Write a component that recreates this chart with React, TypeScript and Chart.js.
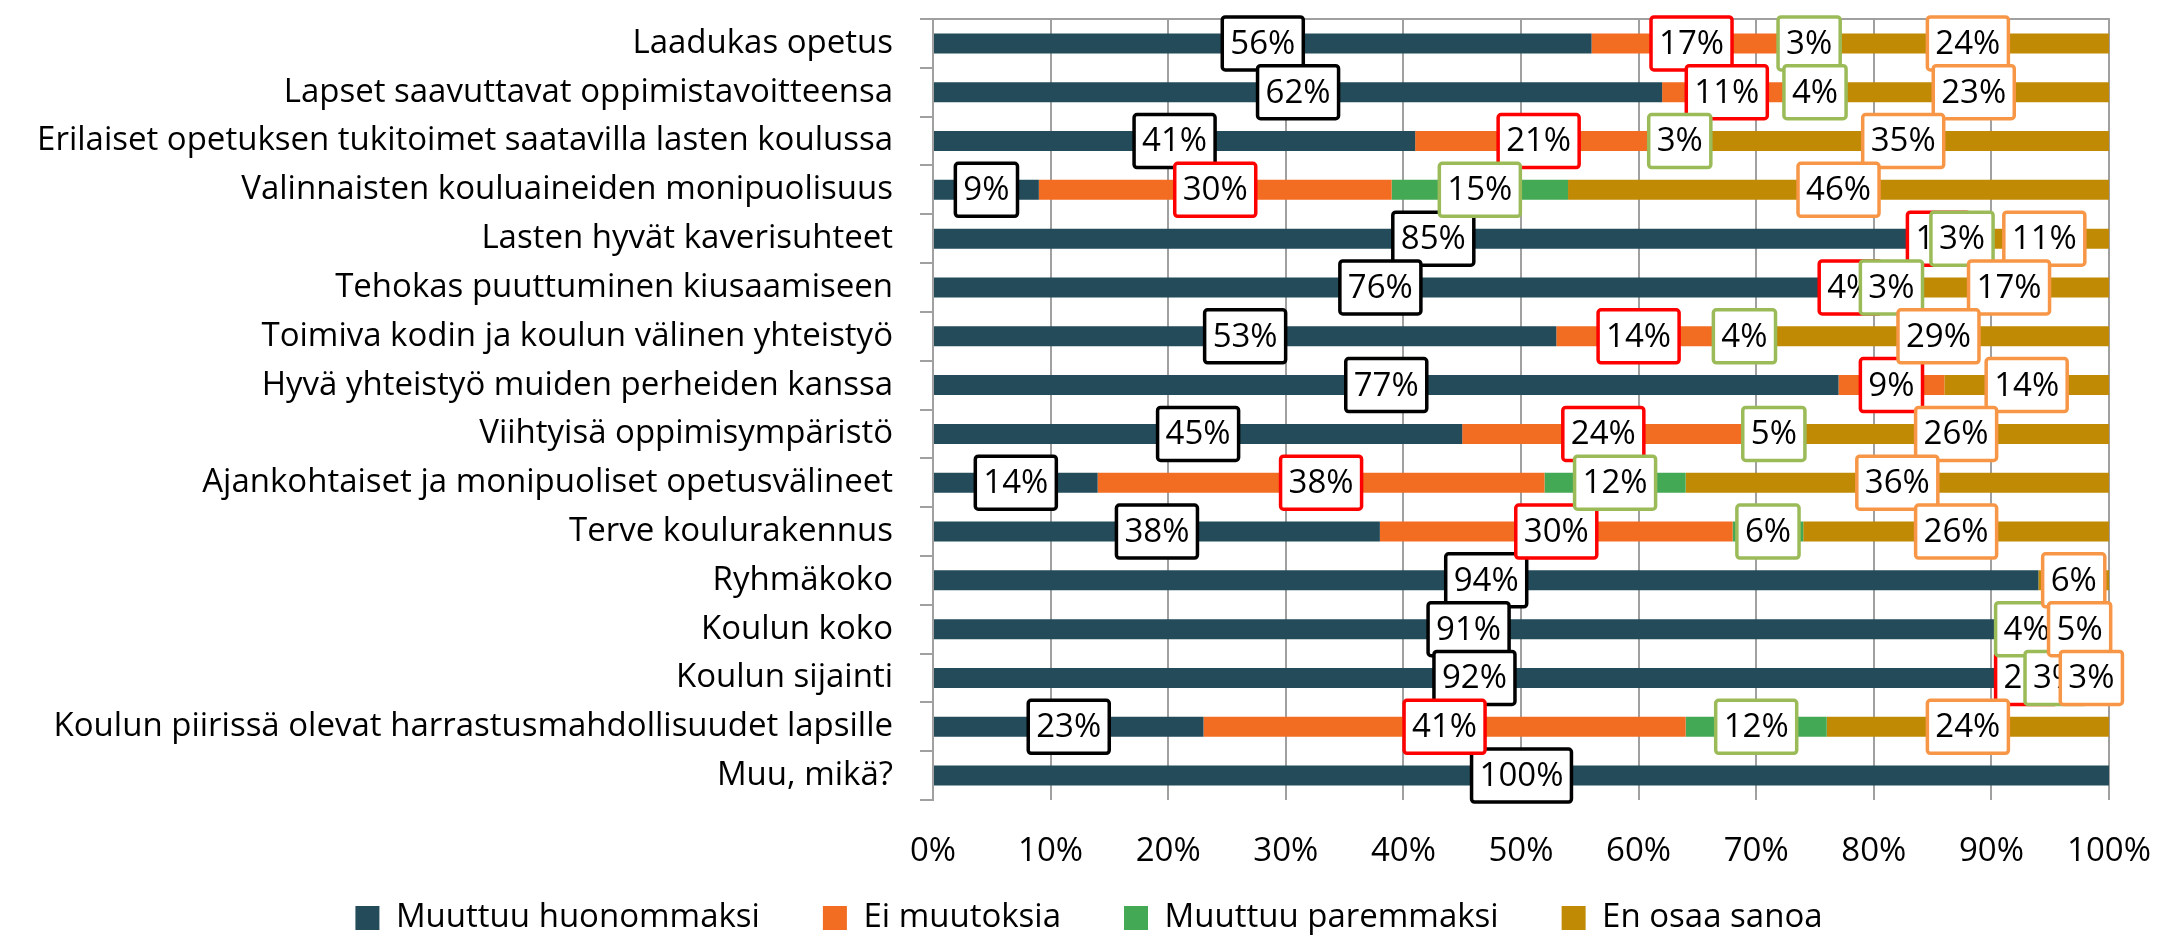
import React, { useEffect, useRef } from 'react';
import { Chart, registerables } from 'chart.js';

Chart.register(...registerables);

const categories = [
  'Laadukas opetus',
  'Lapset saavuttavat oppimistavoitteensa',
  'Erilaiset opetuksen tukitoimet saatavilla lasten koulussa',
  'Valinnaisten kouluaineiden monipuolisuus',
  'Lasten hyvät kaverisuhteet',
  'Tehokas puuttuminen kiusaamiseen',
  'Toimiva kodin ja koulun välinen yhteistyö',
  'Hyvä yhteistyö muiden perheiden kanssa',
  'Viihtyisä oppimisympäristö',
  'Ajankohtaiset ja monipuoliset opetusvälineet',
  'Terve koulurakennus',
  'Ryhmäkoko',
  'Koulun koko',
  'Koulun sijainti',
  'Koulun piirissä olevat harrastusmahdollisuudet lapsille',
  'Muu, mikä?',
];

const seriesNames = ['Muuttuu huonommaksi', 'Ei muutoksia', 'Muuttuu paremmaksi', 'En osaa sanoa'];

const worse = [56, 62, 41, 9, 85, 76, 53, 77, 45, 14, 38, 94, 91, 92, 23, 100];
const noChange = [17, 11, 21, 30, 1, 4, 14, 9, 24, 38, 30, 0, 0, 2, 41, 0];
const better = [3, 4, 3, 15, 3, 3, 4, 0, 5, 12, 6, 0, 4, 3, 12, 0];
const dontKnow = [24, 23, 35, 46, 11, 17, 29, 14, 26, 36, 26, 6, 5, 3, 24, 0];

const barColors = ['#234B5A', '#F26C22', '#44A955', '#C08A05'];
const labelBorderColors = ['#000000', '#FF0000', '#9BBB59', '#F79646'];

const FONT = '"Open Sans", "Liberation Sans", sans-serif';
const FONT_SIZE = 33;
const GRID = '#A0A0A0';

const boxLabelPlugin = {
  id: 'boxLabels',
  afterDatasetsDraw(chart: any) {
    const ctx = chart.ctx;
    ctx.save();
    ctx.font = `${FONT_SIZE}px ${FONT}`;
    ctx.textAlign = 'center';
    ctx.textBaseline = 'middle';
    chart.data.datasets.forEach((ds: any, i: number) => {
      const meta = chart.getDatasetMeta(i);
      meta.data.forEach((el: any, j: number) => {
        const v = ds.data[j];
        if (!v) return;
        const { x, base, y } = el.getProps(['x', 'base', 'y'], true);
        const cx = (x + base) / 2;
        const text = v + '%';
        const w = ctx.measureText(text).width + 16;
        const h = 53;
        ctx.beginPath();
        if (ctx.roundRect) ctx.roundRect(cx - w / 2, y - h / 2, w, h, 3);
        else ctx.rect(cx - w / 2, y - h / 2, w, h);
        ctx.fillStyle = '#ffffff';
        ctx.fill();
        ctx.lineWidth = 3.5;
        ctx.strokeStyle = labelBorderColors[i];
        ctx.stroke();
        ctx.fillStyle = '#000000';
        ctx.fillText(text, cx, y + 1);
      });
    });
    ctx.restore();
  },
};

// moves the legend row up so that it sits just below the axis labels
const legendPlacePlugin = {
  id: 'legendPlace',
  afterLayout(chart: any) {
    const l = chart.legend;
    if (l) {
      l.top = 838.5;
      l.height = l.bottom - l.top;
    }
  },
};

const noPadding = (s: any) => {
  s.paddingTop = 0;
  s.paddingBottom = 0;
  s.paddingLeft = 0;
  s.paddingRight = 0;
};

export default function App() {
  const ref = useRef<HTMLCanvasElement | null>(null);

  useEffect(() => {
    document.body.style.margin = '0';
    document.body.style.background = '#ffffff';
    const canvas = ref.current;
    if (!canvas) return;
    const seriesData = [worse, noChange, better, dontKnow];
    const chart = new Chart(canvas, {
      type: 'bar',
      data: {
        labels: categories,
        datasets: seriesNames.map((name, i) => ({
          label: name,
          data: seriesData[i],
          backgroundColor: barColors[i],
          borderWidth: 0,
          barPercentage: 0.41,
          categoryPercentage: 1,
        })),
      },
      options: {
        indexAxis: 'y',
        responsive: false,
        animation: false,
        devicePixelRatio: 1,
        layout: { padding: { top: 19, left: 0, right: 0, bottom: 0 } },
        plugins: {
          tooltip: { enabled: false },
          legend: {
            position: 'bottom',
            maxHeight: 65,
            labels: {
              boxWidth: 24,
              boxHeight: 24,
              padding: 63,
              color: '#000000',
              font: { family: FONT, size: FONT_SIZE },
            },
          },
        },
        scales: {
          x: {
            stacked: true,
            min: 0,
            max: 100,
            position: 'bottom',
            ticks: {
              stepSize: 10,
              autoSkip: false,
              maxRotation: 0,
              padding: 32,
              color: '#000000',
              font: { family: FONT, size: FONT_SIZE },
              callback: (v: any) => v + '%',
            },
            grid: { color: GRID, lineWidth: 2, drawTicks: false },
            border: { display: false },
            afterFit: (s: any) => {
              s.height = 72;
              noPadding(s);
            },
          },
          xTop: {
            type: 'linear',
            position: 'top',
            min: 0,
            max: 100,
            ticks: { display: false },
            grid: { display: false },
            border: { display: true, color: GRID, width: 2 },
            afterFit: (s: any) => {
              s.height = 0;
              noPadding(s);
            },
          },
          y: {
            stacked: true,
            position: 'left',
            ticks: {
              autoSkip: false,
              padding: 27,
              color: '#000000',
              font: { family: FONT, size: FONT_SIZE },
            },
            grid: {
              drawOnChartArea: false,
              drawTicks: true,
              tickLength: 13,
              color: GRID,
              lineWidth: 2,
              offset: true,
            },
            border: { display: true, color: GRID, width: 2 },
            afterFit: (s: any) => {
              s.width = 933;
              noPadding(s);
            },
          },
          yRight: {
            type: 'category',
            position: 'right',
            ticks: { display: false },
            grid: { display: false },
            border: { display: false },
            afterFit: (s: any) => {
              s.width = 69;
              noPadding(s);
            },
          },
        },
      } as any,
      plugins: [boxLabelPlugin, legendPlacePlugin],
    });
    return () => chart.destroy();
  }, []);

  return (
    <div style={{ width: 2178, height: 937, background: '#ffffff' }}>
      <canvas ref={ref} width={2178} height={937} style={{ display: 'block' }} />
    </div>
  );
}
